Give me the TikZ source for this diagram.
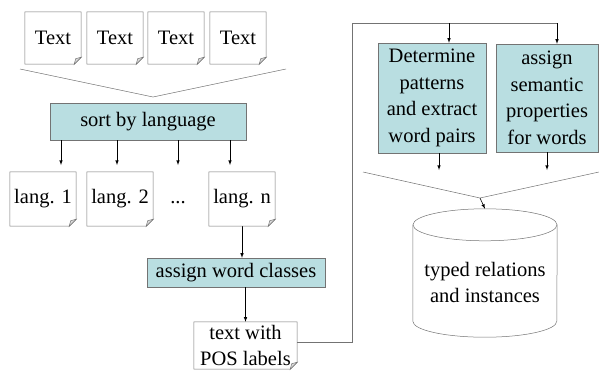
\documentclass[tikz,border=0pt]{standalone}
\usepackage{fontspec}
\setmainfont{Liberation Serif}
\definecolor{boxfill}{RGB}{185,222,225}
\definecolor{boxline}{RGB}{115,115,115}

\begin{document}
\begin{tikzpicture}[x=1pt,y=-1pt,
  font=\fontsize{20.5}{26.5}\selectfont,
  every node/.style={inner sep=0pt,align=center},
  doc/.style={minimum width=56pt,minimum height=52pt},
  langdoc/.style={minimum width=66pt,minimum height=54pt},
  task/.style={draw=boxline,fill=boxfill},
  thinline/.style={draw=boxline,line width=0.5pt},
  arr/.style={>=latex,->,line width=0.6pt}]

\useasboundingbox (0,0) rectangle (599,370);

% input texts
\node [doc] (t1) at (53,38) {Text};
\node [doc] (t2) at (115,38) {Text};
\node [doc] (t3) at (176,38) {Text};
\node [doc] (t4) at (238,38) {Text};

\coordinate (f1) at (153,97);
\draw [thinline] (20,69) -- (f1) -- (286,69);

\node [task,minimum width=196pt,minimum height=37pt] (sort) at (148,121.5) {sort by language};

\coordinate (a1) at (61,165);
\coordinate (a2) at (117,165);
\coordinate (a3) at (178,165);
\coordinate (a4) at (230,165);
\draw [arr] (sort.south -| a1) -- (a1);
\draw [arr] (sort.south -| a2) -- (a2);
\draw [arr] (sort.south -| a3) -- (a3);
\draw [arr] (sort.south -| a4) -- (a4);

\node [langdoc] (l1) at (43,199) {lang. 1};
\node [langdoc] (l2) at (120,199) {lang. 2};
\node (dots) at (178,203) {...};
\node [langdoc] (ln) at (242,199) {lang. n};

\node [task,minimum width=178pt,minimum height=29pt] (wc) at (236,272.5) {assign word classes};
\draw [arr] (ln.south) -- (ln.south |- wc.north);

\node [minimum width=103pt,minimum height=47pt] (pos) at (245.5,345.5) {text with\\POS labels};
\draw [arr] (wc.south -| pos.north) -- (pos.north);

% document outlines with folded corner
\foreach \n in {t1,t2,t3,t4,l1,l2,ln,pos} {
  \draw [thinline] (\n.north west) -- (\n.north east) -- ([yshift=7pt]\n.south east)
    -- ([xshift=-7pt]\n.south east) -- (\n.south west) -- cycle;
  \draw [thinline,fill=gray!30] ([yshift=7pt]\n.south east) -- ([xshift=-7pt]\n.south east)
    -- ([xshift=-5.5pt,yshift=5.5pt]\n.south east) -- cycle;
}

% right part
\node [task,minimum width=108pt,minimum height=110pt] (det) at (432,98) {Determine\\patterns\\and extract\\word pairs};
\node [task,minimum width=102pt,minimum height=108pt] (sem) at (547,98) {assign\\semantic\\properties\\for words};

\coordinate (c1) at (352,23);
\coordinate (c2) at (449,23);
\coordinate (c3) at (557,23);
\draw [thinline] (pos.east |- 0,342) -| (c1) -- (c3);
\draw [arr] (c2) -- (c2 |- det.north);
\draw [arr] (c3) -- (c3 |- sem.north);

\coordinate (b1) at (439,170);
\coordinate (b2) at (547,170);
\draw [arr] (det.south -| b1) -- (b1);
\draw [arr] (sem.south -| b2) -- (b2);

\coordinate (f2) at (480,198);
\draw [thinline] (363,172) -- (f2) -- (599,172);

% database
\node [minimum width=144pt,minimum height=128pt] (db) at (485,273) {};
\draw [thinline] ([yshift=-16pt]db.north) ellipse [x radius=72pt,y radius=16pt];
\draw [thinline] ([yshift=-16pt]db.north west) -- ([yshift=16pt]db.south west)
  arc [start angle=180,end angle=360,x radius=72pt,y radius=16pt] -- ([yshift=-16pt]db.north east);
\node (dbtext) at (485,282.5) {typed relations\\and instances};
\draw [arr] (f2) -- (db.north);

\end{tikzpicture}
\end{document}
